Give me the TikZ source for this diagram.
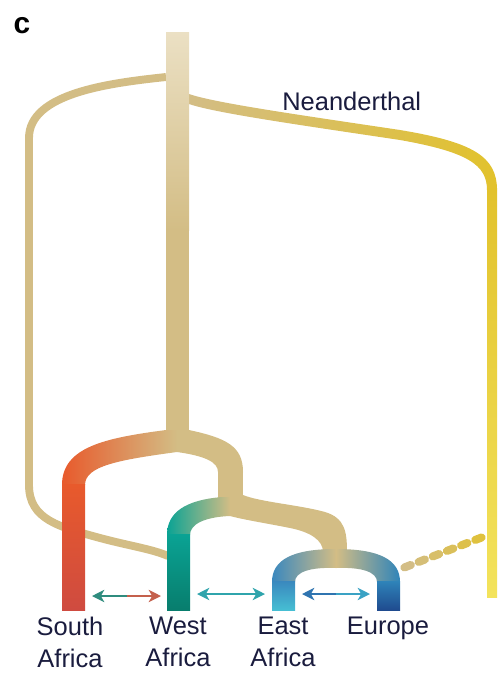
\documentclass[tikz,border=0pt]{standalone}
\usepackage{fontspec}
\setmainfont{Liberation Sans}
\usetikzlibrary{arrows.meta,calc}

\definecolor{stem}{HTML}{D3BD85}
\definecolor{stemlight}{HTML}{EBE0C4}
\definecolor{neayellow}{HTML}{E2C22C}
\definecolor{nealight}{HTML}{F3E35C}
\definecolor{saorange}{HTML}{E85A2C}
\definecolor{sared}{HTML}{CF4B40}
\definecolor{wateal}{HTML}{0AA394}
\definecolor{wadark}{HTML}{087D6D}
\definecolor{eablue}{HTML}{3A88BE}
\definecolor{eacyan}{HTML}{46BED3}
\definecolor{eublue}{HTML}{2F84B9}
\definecolor{eudark}{HTML}{1F4B8F}
\definecolor{namecol}{HTML}{1A1C3E}
\definecolor{flowteal}{HTML}{2F8C7E}
\definecolor{flowred}{HTML}{C4604C}
\definecolor{flowcyan}{HTML}{2FA4AC}
\definecolor{flowblue}{HTML}{2F74B0}
\definecolor{flowsky}{HTML}{3AA2C4}

\begin{document}
\begin{tikzpicture}[x=0.02cm,y=-0.02cm,
    popname/.style={font=\fontsize{14.5}{18}\selectfont, text=namecol, align=center, inner sep=0pt, anchor=north},
    halfflow/.style={line width=1.2pt, -{Stealth[length=7pt,width=7pt,inset=2pt]}}]
    \useasboundingbox (0,0) rectangle (500,677);

    % archaic lineage running into West Africa
    \draw[stem, line width=4.5pt] (166,77) .. controls (110,83) and (29,93) .. (29,138) -- (29,485)
        .. controls (29,520) and (60,527) .. (100,538) .. controls (130,546) and (152,549) .. (168,556);

    % Neanderthal
    \shade[left color=stem, middle color=stem!55!neayellow, right color=neayellow]
        (189,94) .. controls (215,103) and (300,115) .. (400,130) .. controls (472,142) and (497,156) .. (497,190)
        -- (487,190) .. controls (487,165) and (468,152) .. (400,140) .. controls (300,125) and (215,113) .. (189,104) -- cycle;
    \shade[top color=neayellow, bottom color=nealight] (487,188) rectangle (497,597);

    % trunk
    \shade[top color=stemlight, bottom color=stem] (166,32) rectangle (189,230);
    \fill[stem] (166,229) rectangle (189,445);

    % South Africa
    \shade[left color=saorange, middle color=saorange!45!stem, right color=stem]
        (177,452) -- (177,430) -- (166,430) .. controls (105,438) and (62,447) .. (62,485)
        -- (85,485) .. controls (85,466) and (118,460) .. (177,452) -- cycle;
    \shade[top color=saorange, bottom color=sared] (62,484) rectangle (85,610);

    \fill[stem] (177,452) -- (177,430) -- (189,430) .. controls (226,438) and (243,446) .. (243,472)
        -- (218,472) .. controls (218,462) and (205,456) .. (177,452) -- cycle;
    \fill[stem] (218,471) rectangle (243,500);
    \fill[stem] (230,516) -- (230,495) -- (243,495) .. controls (260,502) and (300,505) .. (325,512)
        .. controls (345,518) and (347,532) .. (347,552) -- (323,552) .. controls (323,540) and (310,532) .. (290,528)
        .. controls (265,523) and (245,520) .. (230,516) -- cycle;

    % West Africa
    \shade[left color=wateal, right color=stem]
        (230,516) -- (230,497) -- (222,497) .. controls (186,500) and (167,512) .. (167,535)
        -- (190,535) .. controls (190,524) and (205,517) .. (230,516) -- cycle;
    \shade[top color=wateal, bottom color=wadark] (167,534) rectangle (190,610);

    % East Africa and Europe
    \shade[left color=eablue, right color=stem]
        (336,568) -- (336,549) .. controls (292,549) and (272,560) .. (272,582)
        -- (295,582) .. controls (295,572) and (310,567) .. (336,568) -- cycle;
    \shade[left color=stem, right color=eublue]
        (336,568) -- (336,549) .. controls (380,549) and (400,560) .. (400,582)
        -- (377,582) .. controls (377,572) and (362,567) .. (336,568) -- cycle;
    \shade[top color=eablue, bottom color=eacyan] (272,581) rectangle (295,610);
    \shade[top color=eublue, bottom color=eudark] (377,581) rectangle (400,610);

    % admixture into Europe
    \coordinate (eutop) at (403,568);
    \coordinate (neajoin) at (488,535);
    \foreach \i in {0,...,5} {
        \pgfmathtruncatemacro\share{100-\i*16}
        \draw[line width=4.6pt, line cap=round, color=stem!\share!neayellow]
            ($(eutop)!{(\i+0.1)/6}!(neajoin)$) -- ($(eutop)!{(\i+0.55)/6}!(neajoin)$);
    }

    % gene flow between neighbours
    \coordinate (saR) at (92,596);
    \coordinate (waL) at (161,596);
    \coordinate (waR) at (197,594);
    \coordinate (eaL) at (265,594);
    \coordinate (eaR) at (302,594);
    \coordinate (euL) at (370,594);
    \coordinate (m1) at ($(saR)!0.5!(waL)$);
    \coordinate (m2) at ($(waR)!0.5!(eaL)$);
    \coordinate (m3) at ($(eaR)!0.5!(euL)$);
    \draw[halfflow, flowteal] (m1) -- (saR);
    \draw[halfflow, flowred] (m1) -- (waL);
    \draw[halfflow, flowcyan] (m2) -- (waR);
    \draw[halfflow, flowcyan] (m2) -- (eaL);
    \draw[halfflow, flowblue] (m3) -- (eaR);
    \draw[halfflow, flowsky] (m3) -- (euL);

    \node[font=\bfseries\fontsize{17}{17}\selectfont, text=black, inner sep=0pt] (panel) at (22,26) {c};
    \node[popname, anchor=base west] (nea) at (282,110) {Neanderthal};
    \node[popname] (sa) at (70,617) {South\\Africa};
    \node[popname] (wa) at (178,617) {West\\Africa};
    \node[popname] (ea) at (283,617) {East\\Africa};
    \node[popname] (eu) at (388,617) {Europe};
\end{tikzpicture}
\end{document}
